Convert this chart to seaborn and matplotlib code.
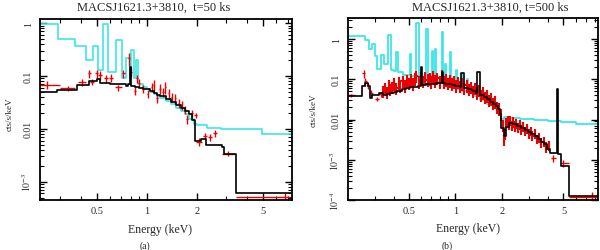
import numpy as np
import pandas as pd
import seaborn as sns
import matplotlib
matplotlib.use("Agg")
import matplotlib.pyplot as plt
from matplotlib.ticker import FixedLocator, FixedFormatter, NullFormatter, LogLocator, FuncFormatter

# ---- panel (a) : t = 50 ks ----
cyan_a_e = [0.228, 0.294, 0.370, 0.431, 0.477, 0.511, 0.548, 0.587, 0.650, 0.707,
            0.750, 0.790, 0.800, 0.840, 0.860, 0.890, 0.95, 1.00, 1.05, 1.10,
            1.15, 1.20, 1.30, 1.40, 1.50, 1.60, 1.70, 1.80, 1.91, 2.00,
            2.30, 2.80, 4.90, 7.44]
cyan_a_v = [0.98, 0.51, 0.37, 0.20, 0.37, 0.13, 0.96, 0.12, 0.49, 0.09,
            0.22, 0.09, 0.31, 0.09, 0.20, 0.072, 0.062, 0.056, 0.050, 0.046,
            0.042, 0.038, 0.033, 0.029, 0.025, 0.022, 0.019, 0.0156, 0.0125, 0.0117,
            0.0105, 0.0101, 0.0081, 0.0078]

black_a_e = [0.228, 0.29, 0.38, 0.45, 0.50, 0.52, 0.60, 0.75, 0.77, 0.79,
             0.80, 0.85, 0.90, 0.95, 1.0, 1.05, 1.1, 1.15, 1.2, 1.3,
             1.4, 1.5, 1.6, 1.7, 1.8, 1.86, 1.95, 2.1, 2.25, 2.83,
             2.9, 3.45, 7.44]
black_a_v = [0.0507, 0.054, 0.069, 0.081, 0.089, 0.075, 0.072, 0.066, 0.07, 0.15,
             0.065, 0.062, 0.06, 0.058, 0.056, 0.052, 0.048, 0.044, 0.041, 0.036,
             0.032, 0.028, 0.025, 0.022, 0.0195, 0.0145, 0.006, 0.0065, 0.005, 0.0045,
             0.0034, 0.0006, 0.0006]

red_a_e = [0.25, 0.337, 0.41, 0.45, 0.467, 0.50, 0.52, 0.57, 0.61, 0.675,
           0.72, 0.78, 0.80, 0.85, 0.87, 0.90, 0.95, 1.01, 1.07, 1.10,
           1.15, 1.20, 1.25, 1.29, 1.35, 1.41, 1.48, 1.55, 1.62, 1.70,
           1.74, 1.86, 1.96, 2.06, 2.24, 2.39, 2.55, 3.05, 6.8]
red_a_lo = [0.228, 0.30, 0.385, 0.44, 0.455, 0.49, 0.51, 0.555, 0.595, 0.645,
            0.71, 0.775, 0.795, 0.84, 0.865, 0.89, 0.94, 1.0, 1.06, 1.09,
            1.14, 1.19, 1.24, 1.28, 1.34, 1.40, 1.47, 1.54, 1.61, 1.68,
            1.72, 1.84, 1.93, 1.98, 2.18, 2.33, 2.50, 2.82, 3.45]
red_a_hi = [0.30, 0.37, 0.43, 0.46, 0.48, 0.51, 0.535, 0.585, 0.625, 0.71,
            0.735, 0.79, 0.81, 0.86, 0.88, 0.91, 0.96, 1.02, 1.08, 1.11,
            1.16, 1.21, 1.26, 1.30, 1.36, 1.42, 1.49, 1.56, 1.63, 1.72,
            1.76, 1.88, 1.99, 2.15, 2.30, 2.45, 2.62, 3.40, 7.44]
red_a_y = [0.068, 0.059, 0.077, 0.112, 0.078, 0.112, 0.104, 0.09, 0.093, 0.061,
           0.112, 0.215, 0.12, 0.053, 0.09, 0.075, 0.058, 0.046, 0.062, 0.068,
           0.038, 0.058, 0.05, 0.061, 0.047, 0.040, 0.038, 0.031, 0.028, 0.023,
           0.0156, 0.0198, 0.018, 0.0057, 0.0074, 0.0069, 0.0082, 0.0034, 0.00052]
red_a_dy = [0.011, 0.006, 0.012, 0.02, 0.01, 0.02, 0.02, 0.015, 0.015, 0.008,
            0.02, 0.06, 0.025, 0.01, 0.015, 0.012, 0.01, 0.008, 0.012, 0.015,
            0.007, 0.012, 0.01, 0.015, 0.01, 0.008, 0.008, 0.006, 0.005, 0.004,
            0.003, 0.003, 0.002, 0.0009, 0.0011, 0.001, 0.0012, 0.0004, 0.00008]

# ---- panel (b) : t = 500 ks ----
cyan_b_e = [0.20, 0.26, 0.277, 0.29, 0.30, 0.31, 0.33, 0.345, 0.366, 0.385,
            0.40, 0.415, 0.425, 0.46, 0.505, 0.515, 0.56, 0.58, 0.65, 0.66,
            0.71, 0.72, 0.735, 0.745, 0.815, 0.825, 0.855, 0.865, 0.925, 0.935,
            1.015, 1.025, 1.095, 1.105, 1.195, 1.205, 1.3, 1.45, 1.6, 1.75,
            1.9, 1.98, 2.05, 2.2, 2.6, 3.2, 4.0, 4.8, 6.0, 8.3]
cyan_b_v = [1.17, 0.93, 0.57, 0.75, 0.39, 0.18, 0.40, 0.24, 1.24, 0.17,
            0.16, 0.47, 0.15, 0.13, 0.43, 0.12, 2.5, 0.105, 1.8, 0.095,
            0.52, 0.09, 0.57, 0.088, 1.5, 0.08, 0.24, 0.075, 0.47, 0.065,
            0.17, 0.058, 0.125, 0.052, 0.10, 0.045, 0.038, 0.031, 0.025, 0.019,
            0.014, 0.0105, 0.0117, 0.0112, 0.0105, 0.0098, 0.0091, 0.0085, 0.0077, 0.0075]

black_b_e = [0.20, 0.25, 0.26, 0.27, 0.28, 0.29, 0.32, 0.34, 0.36, 0.38,
             0.40, 0.42, 0.45, 0.48, 0.51, 0.54, 0.57, 0.595, 0.605, 0.65,
             0.70, 0.75, 0.80, 0.815, 0.825, 0.85, 0.90, 0.95, 1.0, 1.07,
             1.08, 1.14, 1.2, 1.26, 1.30, 1.36, 1.37, 1.44, 1.52, 1.6,
             1.68, 1.76, 1.82, 1.88, 1.93, 1.98, 2.05, 2.12, 2.22, 2.35,
             2.5, 2.65, 2.8, 2.95, 3.1, 3.25, 3.4, 3.57, 3.74, 3.92,
             4.1, 4.52, 4.6, 4.83, 5.43, 8.3]
black_b_v = [0.039, 0.07, 0.08, 0.07, 0.035, 0.04, 0.045, 0.04, 0.042, 0.045,
             0.049, 0.052, 0.056, 0.06, 0.063, 0.066, 0.069, 0.2, 0.072, 0.075,
             0.078, 0.079, 0.08, 0.15, 0.079, 0.077, 0.075, 0.071, 0.068, 0.063,
             0.14, 0.06, 0.057, 0.053, 0.05, 0.045, 0.15, 0.041, 0.036, 0.032,
             0.028, 0.025, 0.022, 0.018, 0.0137, 0.0063, 0.0038, 0.0065, 0.0083, 0.0076,
             0.0068, 0.0062, 0.0055, 0.0048, 0.0043, 0.0038, 0.0033, 0.0028, 0.0024, 0.0019,
             0.0015, 0.056, 0.0014, 0.0007, 0.000126, 0.000126]

# dense part of the 500 ks spectrum (narrow bins)
red_b_e = [0.34, 0.35, 0.36, 0.37, 0.38, 0.39, 0.40, 0.415, 0.43, 0.44,
           0.455, 0.47, 0.485, 0.50, 0.515, 0.53, 0.545, 0.56, 0.58, 0.60,
           0.62, 0.64, 0.66, 0.68, 0.70, 0.72, 0.74, 0.765, 0.79, 0.815,
           0.84, 0.865, 0.89, 0.92, 0.95, 0.98, 1.01, 1.04, 1.07, 1.10,
           1.14, 1.18, 1.22, 1.26, 1.30, 1.34, 1.38, 1.42, 1.46, 1.51,
           1.56, 1.61, 1.66, 1.71, 1.76, 1.81, 1.86, 1.91, 1.96,
           2.03, 2.07, 2.1, 2.14, 2.18, 2.22, 2.27, 2.32, 2.37, 2.42,
           2.48, 2.54, 2.6, 2.67, 2.74, 2.81, 2.89, 2.97, 3.06, 3.15,
           3.25, 3.36, 3.48, 3.6, 3.74, 3.88, 4.02]
red_b_y = [0.052, 0.061, 0.048, 0.070, 0.058, 0.066, 0.080, 0.062, 0.085, 0.072,
           0.090, 0.070, 0.095, 0.082, 0.100, 0.078, 0.105, 0.120, 0.088, 0.110,
           0.092, 0.115, 0.098, 0.105, 0.090, 0.118, 0.095, 0.108, 0.088, 0.125,
           0.090, 0.100, 0.082, 0.095, 0.078, 0.088, 0.072, 0.085, 0.068, 0.078,
           0.062, 0.072, 0.058, 0.066, 0.052, 0.060, 0.047, 0.055, 0.041, 0.047,
           0.036, 0.040, 0.030, 0.034, 0.026, 0.028, 0.021, 0.019, 0.0135,
           0.0075, 0.0032, 0.0045, 0.0085, 0.0095, 0.0080, 0.0098, 0.0072, 0.0088, 0.0070,
           0.0082, 0.0064, 0.0075, 0.0058, 0.0068, 0.0052, 0.0060, 0.0046, 0.0052, 0.0040,
           0.0045, 0.0033, 0.0036, 0.0027, 0.0029, 0.0021, 0.0023]
red_b_dy = [0.018, 0.02, 0.016, 0.024, 0.02, 0.022, 0.028, 0.021, 0.03, 0.025,
            0.03, 0.024, 0.032, 0.028, 0.034, 0.027, 0.036, 0.04, 0.03, 0.038,
            0.032, 0.04, 0.034, 0.036, 0.031, 0.04, 0.033, 0.037, 0.03, 0.042,
            0.031, 0.034, 0.028, 0.033, 0.027, 0.03, 0.025, 0.029, 0.023, 0.027,
            0.021, 0.025, 0.02, 0.022, 0.018, 0.02, 0.016, 0.019, 0.014, 0.016,
            0.012, 0.014, 0.01, 0.012, 0.009, 0.0095, 0.007, 0.0065, 0.0045,
            0.0025, 0.001, 0.0014, 0.0025, 0.0028, 0.0024, 0.0028, 0.002, 0.0025, 0.002,
            0.0023, 0.0018, 0.0021, 0.0016, 0.0019, 0.0014, 0.0017, 0.0013, 0.0014, 0.0011,
            0.0012, 0.0009, 0.001, 0.0007, 0.0008, 0.0006, 0.0006]

# wide bins of the 500 ks spectrum
redx_b_e = [0.21, 0.255, 0.262, 0.27, 0.285, 0.31, 0.33, 4.3, 5.0, 7.6]
redx_b_lo = [0.20, 0.25, 0.258, 0.266, 0.278, 0.30, 0.32, 4.15, 4.83, 5.45]
redx_b_hi = [0.225, 0.26, 0.266, 0.274, 0.292, 0.32, 0.34, 4.45, 5.4, 8.3]
redx_b_y = [0.04, 0.14, 0.09, 0.07, 0.047, 0.033, 0.042, 0.0011, 0.00083, 0.00012]
redx_b_dy = [0.004, 0.03, 0.02, 0.012, 0.008, 0.004, 0.006, 0.0002, 0.00015, 0.00004]

titles = ["MACSJ1621.3+3810,  t=50 ks", "MACSJ1621.3+3810, t=500 ks"]
captions = ["(a)", "(b)"]

sns.set_theme(style="ticks")
plt.rcParams["font.family"] = ["Liberation Serif", "DejaVu Serif"]
plt.rcParams["mathtext.fontset"] = "stix"

CYAN = "#3ee6e6"
RED = "#ee0000"

fig = plt.figure(figsize=(6.0, 2.51), dpi=100)
ax_a = fig.add_axes([40 / 600, 50 / 251, 252 / 600, 181 / 251])
ax_b = fig.add_axes([347.7 / 600, 50 / 251, 249.8 / 600, 182 / 251])


def ylab(v, pos):
    if v >= 0.01:
        return "%g" % v
    return r"$10^{%d}$" % int(round(np.log10(v)))


def style(ax, xlim, ylim):
    ax.set_xscale("log")
    ax.set_yscale("log")
    ax.set_xlim(*xlim)
    ax.set_ylim(*ylim)
    ax.xaxis.set_major_locator(FixedLocator([0.5, 1, 2, 5]))
    ax.xaxis.set_major_formatter(FixedFormatter(["0.5", "1", "2", "5"]))
    ax.xaxis.set_minor_locator(FixedLocator([0.3, 0.4, 0.6, 0.7, 0.8, 0.9, 3, 4, 6, 7, 8]))
    ax.xaxis.set_minor_formatter(NullFormatter())
    ax.yaxis.set_major_locator(LogLocator(base=10))
    ax.yaxis.set_major_formatter(FuncFormatter(ylab))
    ax.yaxis.set_minor_locator(LogLocator(base=10, subs=np.arange(2, 10)))
    ax.yaxis.set_minor_formatter(NullFormatter())
    ax.tick_params(which="both", direction="in", top=True, right=True, color="black")
    ax.tick_params(which="major", length=5, width=1.0)
    ax.tick_params(which="minor", length=3, width=0.8)
    ax.tick_params(axis="x", labelsize=7.5, pad=4)
    ax.tick_params(axis="y", labelsize=7, labelrotation=90, pad=5)
    for lab in ax.get_yticklabels():
        lab.set_va("center")
    for s in ax.spines.values():
        s.set_linewidth(1.3)
        s.set_color("black")
    ax.set_xlabel("Energy (keV)", fontsize=8.5)
    ax.set_ylabel("cts/s/keV", fontsize=6.5)


# panel (a)
sns.lineplot(x=cyan_a_e, y=cyan_a_v, ax=ax_a, color=CYAN, lw=1.2,
             drawstyle="steps-post", estimator=None, sort=False, legend=False)
ra_e = np.array(red_a_e)
ax_a.errorbar(ra_e, red_a_y, yerr=red_a_dy,
              xerr=[ra_e - np.array(red_a_lo), np.array(red_a_hi) - ra_e],
              fmt="none", ecolor=RED, elinewidth=1.0)
sns.lineplot(x=black_a_e, y=black_a_v, ax=ax_a, color="black", lw=1.2,
             drawstyle="steps-post", estimator=None, sort=False, legend=False)
style(ax_a, (0.228, 7.44), (4.5e-4, 1.2))
ax_a.xaxis.set_label_coords(0.476, -0.125)
ax_a.yaxis.set_label_coords(-0.105, 0.48)

# panel (b)
sns.lineplot(x=cyan_b_e, y=cyan_b_v, ax=ax_b, color=CYAN, lw=1.3,
             drawstyle="steps-post", estimator=None, sort=False, legend=False)
rb = np.array(red_b_e)
mid = np.sqrt(rb[1:] * rb[:-1])
lo = np.concatenate([[rb[0] * 0.985], mid])
hi = np.concatenate([mid, [rb[-1] * 1.015]])
ax_b.errorbar(rb, red_b_y, yerr=red_b_dy, xerr=[rb - lo, hi - rb],
              fmt="none", ecolor=RED, elinewidth=1.5)
rbx = np.array(redx_b_e)
ax_b.errorbar(rbx, redx_b_y, yerr=redx_b_dy,
              xerr=[rbx - np.array(redx_b_lo), np.array(redx_b_hi) - rbx],
              fmt="none", ecolor=RED, elinewidth=1.0)
sns.lineplot(x=black_b_e, y=black_b_v, ax=ax_b, color="black", lw=1.2,
             drawstyle="steps-post", estimator=None, sort=False, legend=False)
style(ax_b, (0.201, 8.3), (1e-4, 3.35))
ax_b.xaxis.set_label_coords(0.48, -0.12)
ax_b.yaxis.set_label_coords(-0.119, 0.5)

fig.text(154 / 600, 1 - 8 / 251, titles[0], ha="center", va="center", fontsize=9)
fig.text(490 / 600, 1 - 7.5 / 251, titles[1], ha="center", va="center", fontsize=9)
fig.text(145 / 600, 1 - 246.5 / 251, captions[0], ha="center", va="center", fontsize=7)
fig.text(447 / 600, 1 - 246.5 / 251, captions[1], ha="center", va="center", fontsize=7)

fig.savefig("out.png", dpi=100)
